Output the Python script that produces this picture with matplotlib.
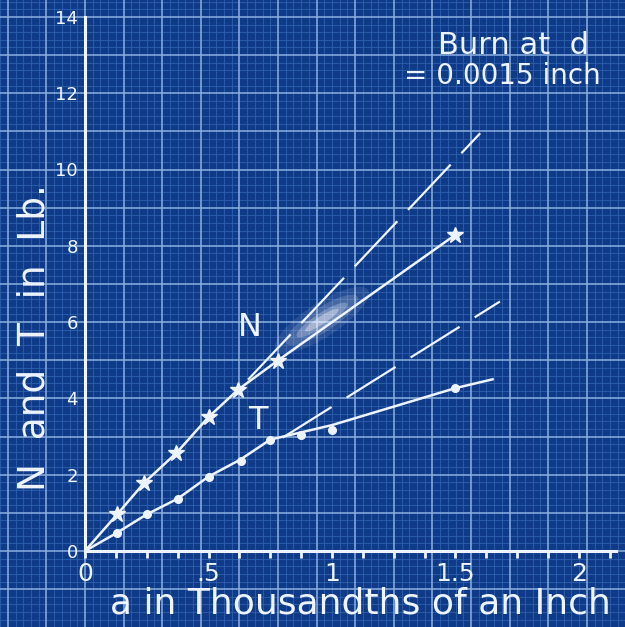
import matplotlib
matplotlib.use("Agg")
import matplotlib.pyplot as plt
from matplotlib.patches import Ellipse
import numpy as np

# ---- data ----
N_x = [0.0, 0.13, 0.24, 0.37, 0.50, 0.62, 0.78, 1.50]
N_y = [0.0, 0.96, 1.79, 2.57, 3.51, 4.23, 4.99, 8.29]

T_x = [0.13, 0.25, 0.375, 0.50, 0.63, 0.75, 0.875, 1.00, 1.50]
T_y = [0.48, 0.96, 1.37, 1.95, 2.36, 2.92, 3.04, 3.16, 4.27]

T_curve_x = [0.0, 0.13, 0.25, 0.375, 0.50, 0.63, 0.75, 1.00, 1.50, 1.65]
T_curve_y = [0.0, 0.48, 0.96, 1.37, 1.95, 2.40, 2.92, 3.30, 4.27, 4.50]

N_dash_x = [0.66, 1.60]
N_dash_y = [4.49, 10.95]
T_dash_x = [0.80, 1.68]
T_dash_y = [2.97, 6.54]

x_ticks = [0, 0.5, 1.0, 1.5, 2.0]
x_tick_labels = ["0", ".5", "1", "1.5", "2"]
y_ticks = [0, 2, 4, 6, 8, 10, 12, 14]
y_tick_labels = ["0", "2", "4", "6", "8", "10", "12", "14"]

# ---- styling ----
BG = "#0f3a88"
MINOR = "#2f62ae"
MAJOR = "#8ab0e0"
INK = "#eef4ff"
W, H = 625, 627
FONT = ["DejaVu Sans"]

fig = plt.figure(figsize=(W / 100, H / 100), dpi=100)
fig.patch.set_facecolor(BG)

# background blueprint paper grid in pixel coordinates
bg = fig.add_axes([0, 0, 1, 1])
bg.set_xlim(0, W)
bg.set_ylim(H, 0)
bg.set_facecolor(BG)
bg.axis("off")
ox, oy = 85.0, 551.0
sx, sy = 38.6, 38.15
for k in range(-15, 90):
    xv = ox + k * sx / 5
    if 0 <= xv <= W:
        major = (k % 5 == 0)
        bg.axvline(xv, color=MAJOR if major else MINOR,
                   lw=1.3 if major else 0.8, alpha=0.85 if major else 0.8,
                   zorder=2 if major else 1)
    yv = oy - k * sy / 5
    if 0 <= yv <= H:
        major = (k % 5 == 0)
        bg.axhline(yv, color=MAJOR if major else MINOR,
                   lw=1.3 if major else 0.8, alpha=0.85 if major else 0.8,
                   zorder=2 if major else 1)

# soft chalk smudge near the middle of the N line
for wdt, hgt, a in [(110, 34, 0.10), (85, 24, 0.15), (60, 14, 0.25), (40, 8, 0.35)]:
    bg.add_patch(Ellipse((322, 320), wdt, hgt, angle=-33, color="white",
                         alpha=a, lw=0, zorder=3))

# data axes
x0px, y0px = 85.0, 551.0
xscale = 247.0      # px per unit x
yscale = 38.15      # px per unit y
xmax, ymax = 2.15, 14.0
left = x0px / W
bottom = (H - y0px) / H
width = xmax * xscale / W
height = ymax * yscale / H
ax = fig.add_axes([left, bottom, width, height])
ax.set_facecolor("none")
ax.set_xlim(0, xmax)
ax.set_ylim(0, ymax)
for s in ["top", "right"]:
    ax.spines[s].set_visible(False)
for s in ["left", "bottom"]:
    ax.spines[s].set_color(INK)
    ax.spines[s].set_linewidth(2.2)
    ax.spines[s].set_zorder(5)

ax.set_xticks(x_ticks)
ax.set_xticklabels(x_tick_labels, fontsize=18, color=INK, family=FONT)
ax.set_xticks(np.arange(0, 2.15, 0.125), minor=True)
ax.tick_params(axis="x", which="both", direction="out", length=5, width=2,
               color=INK, pad=3)
ax.set_yticks(y_ticks)
ax.set_yticklabels(y_tick_labels, fontsize=13, color=INK, family=FONT)
ax.tick_params(axis="y", which="both", length=0, pad=5)

lw = 1.8
ax.plot(N_x, N_y, color=INK, lw=lw, zorder=4)
ax.plot(N_x[1:], N_y[1:], linestyle="none", marker="*", markersize=12,
        color=INK, zorder=6)
ax.plot(T_curve_x, T_curve_y, color=INK, lw=lw, zorder=4)
ax.plot(T_x, T_y, linestyle="none", marker="o", markersize=5.5,
        color=INK, zorder=6)
ax.plot(N_dash_x, N_dash_y, color=INK, lw=1.6, linestyle=(0, (28, 7)), zorder=4)
ax.plot(T_dash_x, T_dash_y, color=INK, lw=1.6, linestyle=(0, (26, 8)), zorder=4)

ax.text(0.668, 5.85, "N", fontsize=23, color=INK, family=FONT, ha="center", va="center")
ax.text(0.70, 3.43, "T", fontsize=23, color=INK, family=FONT, ha="center", va="center")

fig.text(514 / W, 1 - 45 / H, "Burn at  d", fontsize=22, color=INK, family=FONT,
         ha="center", va="center")
fig.text(502 / W, 1 - 76 / H, "= 0.0015 inch", fontsize=20, color=INK, family=FONT,
         ha="center", va="center")

fig.text(360 / W, 1 - 604 / H, "a in Thousandths of an Inch", fontsize=26,
         color=INK, family=FONT, ha="center", va="center")
fig.text(35 / W, 1 - 338 / H, "N  and  T  in  Lb.", fontsize=27, color=INK,
         family=FONT, ha="center", va="center", rotation=90)

fig.savefig("out.png", dpi=100, facecolor=BG)
